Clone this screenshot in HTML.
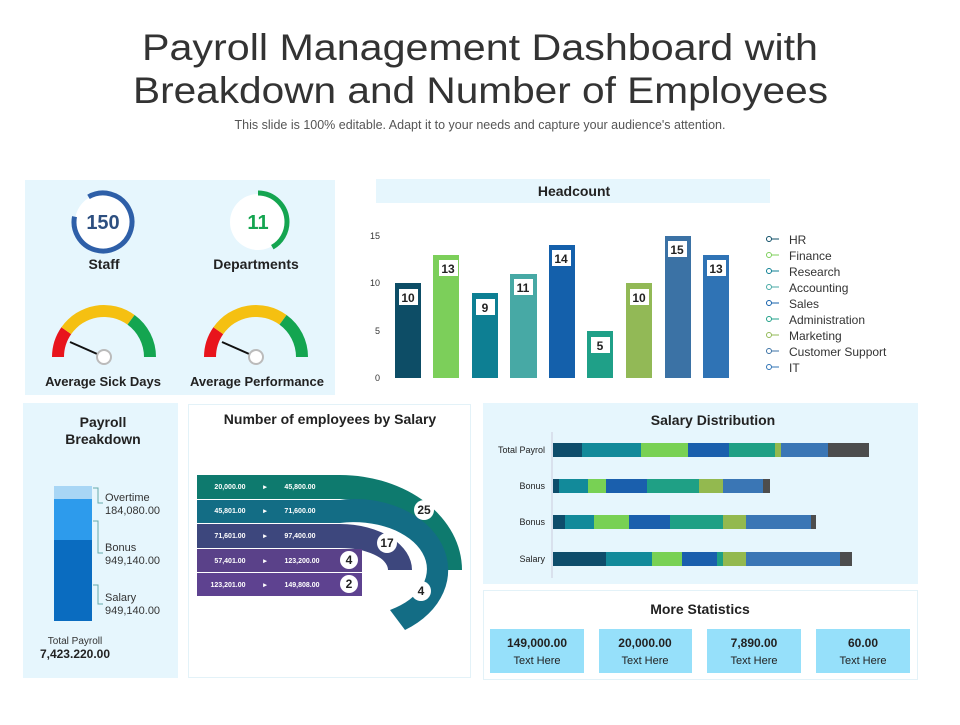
<!DOCTYPE html>
<html><head><meta charset="utf-8"><style>
html,body{margin:0;padding:0;background:#fff;}
svg text{font-family:"Liberation Sans",sans-serif;}
</style></head><body>
<svg width="960" height="720" viewBox="0 0 960 720" xmlns="http://www.w3.org/2000/svg">
<rect width="960" height="720" fill="#fff"/>
<text x="142" y="60" font-size="37" fill="#333" textLength="676" lengthAdjust="spacingAndGlyphs">Payroll Management Dashboard with</text>
<text x="133" y="103" font-size="37" fill="#333" textLength="695" lengthAdjust="spacingAndGlyphs">Breakdown and Number of Employees</text>
<text x="480" y="129" text-anchor="middle" font-size="12.5" fill="#555">This slide is 100% editable. Adapt it to your needs and capture your audience's attention.</text>

<!-- top-left panel -->
<rect x="25" y="180" width="310" height="215" fill="#e6f6fd"/>
<circle cx="103" cy="222" r="28" fill="#fff"/>
<circle cx="103" cy="222" r="29" fill="none" stroke="#2e5fa8" stroke-width="5" stroke-dasharray="157 200" transform="rotate(-120 103 222)"/>
<text x="103" y="229" text-anchor="middle" font-size="20" font-weight="bold" fill="#2d4f80">150</text>
<circle cx="258" cy="222" r="28" fill="#fff"/>
<circle cx="258" cy="222" r="29" fill="none" stroke="#14a550" stroke-width="5" stroke-dasharray="76 200" transform="rotate(-90 258 222)"/>
<text x="258" y="229" text-anchor="middle" font-size="20" font-weight="bold" fill="#14a550">11</text>
<text x="104" y="269" text-anchor="middle" font-size="14" font-weight="bold" fill="#222">Staff</text>
<text x="256" y="269" text-anchor="middle" font-size="14" font-weight="bold" fill="#222">Departments</text>

<g id="g1">
<path d="M52 357 A52 52 0 0 1 61.4 327.2 L71.2 334.1 A40 40 0 0 0 64 357 Z" fill="#e8141c"/>
<path d="M61.4 327.2 A52 52 0 0 1 134.6 315 L127.5 324.6 A40 40 0 0 0 71.2 334.1 Z" fill="#f5c011"/>
<path d="M134.6 315 A52 52 0 0 1 156 357 L144 357 A40 40 0 0 0 127.5 324.6 Z" fill="#14a550"/>
<line x1="70" y1="342" x2="104" y2="357" stroke="#111" stroke-width="2"/>
<circle cx="104" cy="357" r="7" fill="#fff" stroke="#bbb" stroke-width="2"/>
</g>
<use href="#g1" transform="translate(152 0)"/>
<text x="103" y="386" text-anchor="middle" font-size="13" font-weight="bold" fill="#222">Average Sick Days</text>
<text x="257" y="386" text-anchor="middle" font-size="13" font-weight="bold" fill="#222">Average Performance</text>

<!-- Headcount -->
<rect x="376" y="179" width="394" height="24" fill="#e6f6fd"/>
<text x="574" y="196" text-anchor="middle" font-size="14" font-weight="bold" fill="#222">Headcount</text>
<g font-size="9" fill="#333" text-anchor="end">
<text x="380" y="239">15</text><text x="380" y="286">10</text><text x="380" y="334">5</text><text x="380" y="381">0</text>
</g>
<g>
<rect x="395" y="283" width="26" height="95" fill="#0d4d66"/>
<rect x="433" y="255" width="26" height="123" fill="#7ccf5a"/>
<rect x="472" y="293" width="26" height="85" fill="#0d7f93"/>
<rect x="510" y="274" width="27" height="104" fill="#47a9a5"/>
<rect x="549" y="245" width="26" height="133" fill="#1460ab"/>
<rect x="587" y="331" width="26" height="47" fill="#1fa088"/>
<rect x="626" y="283" width="26" height="95" fill="#92b956"/>
<rect x="665" y="236" width="26" height="142" fill="#3b72a5"/>
<rect x="703" y="255" width="26" height="123" fill="#2f73b5"/>
</g>
<g fill="#fff">
<rect x="399" y="289" width="19" height="16"/><rect x="439" y="260" width="19" height="16"/>
<rect x="476" y="299" width="19" height="16"/><rect x="514" y="279" width="19" height="16"/>
<rect x="552" y="250" width="19" height="16"/><rect x="591" y="337" width="19" height="16"/>
<rect x="630" y="289" width="19" height="16"/><rect x="668" y="241" width="19" height="16"/>
<rect x="707" y="260" width="19" height="16"/>
</g>
<g font-size="12" font-weight="bold" fill="#222" text-anchor="middle">
<text x="408" y="302">10</text><text x="448" y="273">13</text><text x="485" y="312">9</text>
<text x="523" y="292">11</text><text x="561" y="263">14</text><text x="600" y="350">5</text>
<text x="639" y="302">10</text><text x="677" y="254">15</text><text x="716" y="273">13</text>
</g>
<g font-size="12" fill="#333">
<text x="789" y="244">HR</text><text x="789" y="260">Finance</text><text x="789" y="276">Research</text>
<text x="789" y="292">Accounting</text><text x="789" y="308">Sales</text><text x="789" y="324">Administration</text>
<text x="789" y="340">Marketing</text><text x="789" y="356">Customer Support</text><text x="789" y="372">IT</text>
</g>
<g fill="none" stroke-width="1">
<g stroke="#0d4d66"><circle cx="769" cy="239" r="2.5"/><line x1="772" y1="239" x2="779" y2="239"/></g>
<g stroke="#7ccf5a"><circle cx="769" cy="255" r="2.5"/><line x1="772" y1="255" x2="779" y2="255"/></g>
<g stroke="#0d7f93"><circle cx="769" cy="271" r="2.5"/><line x1="772" y1="271" x2="779" y2="271"/></g>
<g stroke="#47a9a5"><circle cx="769" cy="287" r="2.5"/><line x1="772" y1="287" x2="779" y2="287"/></g>
<g stroke="#1460ab"><circle cx="769" cy="303" r="2.5"/><line x1="772" y1="303" x2="779" y2="303"/></g>
<g stroke="#1fa088"><circle cx="769" cy="319" r="2.5"/><line x1="772" y1="319" x2="779" y2="319"/></g>
<g stroke="#92b956"><circle cx="769" cy="335" r="2.5"/><line x1="772" y1="335" x2="779" y2="335"/></g>
<g stroke="#3b72a5"><circle cx="769" cy="351" r="2.5"/><line x1="772" y1="351" x2="779" y2="351"/></g>
<g stroke="#2f73b5"><circle cx="769" cy="367" r="2.5"/><line x1="772" y1="367" x2="779" y2="367"/></g>
</g>

<!-- Payroll breakdown -->
<rect x="23" y="403" width="155" height="275" fill="#e6f6fd"/>
<text x="103" y="427" text-anchor="middle" font-size="14" font-weight="bold" fill="#222">Payroll</text>
<text x="103" y="444" text-anchor="middle" font-size="14" font-weight="bold" fill="#222">Breakdown</text>
<rect x="54" y="486" width="38" height="13" fill="#a8d6f5"/>
<rect x="54" y="499" width="38" height="41" fill="#2d9bec"/>
<rect x="54" y="540" width="38" height="81" fill="#0a6cc0"/>
<g fill="none" stroke="#6aa" stroke-width="1">
<path d="M93 488 H98 V503 H103"/><path d="M93 521 H98 V553 H103"/><path d="M93 585 H98 V604 H103"/>
</g>
<g font-size="11" fill="#333">
<text x="105" y="501">Overtime</text><text x="105" y="514">184,080.00</text>
<text x="105" y="551">Bonus</text><text x="105" y="564">949,140.00</text>
<text x="105" y="601">Salary</text><text x="105" y="614">949,140.00</text>
</g>
<text x="75" y="644" text-anchor="middle" font-size="10" fill="#333">Total Payroll</text>
<text x="75" y="658" text-anchor="middle" font-size="12" font-weight="bold" fill="#222">7,423.220.00</text>

<!-- Employees by salary -->
<rect x="188.5" y="404.5" width="282" height="273" fill="#fff" stroke="#e3f2f8"/>
<text x="330" y="424" text-anchor="middle" font-size="14" font-weight="bold" fill="#222">Number of employees by  Salary</text>
<path d="M197 475 H340 A122 95 0 0 1 462 570 H433 A93 71 0 0 0 340 499 H197 Z" fill="#0e7a6e"/>
<path d="M197 500 H340 A93 71 0 0 1 405 630 L390 610 A73 47 0 0 0 340 523 H197 Z" fill="#136d85"/>
<path d="M197 524 H340 A72 46 0 0 1 412 570 H388 A48 22 0 0 0 340 548 H197 Z" fill="#3d477d"/>
<rect x="197" y="549" width="165" height="23" fill="#5a4189"/>
<rect x="197" y="573" width="165" height="23" fill="#5e4290"/>
<g font-size="7" font-weight="bold" fill="#fff" text-anchor="middle">
<text x="230" y="489">20,000.00</text><text x="265" y="489">▸</text><text x="300" y="489">45,800.00</text>
<text x="230" y="513">45,801.00</text><text x="265" y="513">▸</text><text x="300" y="513">71,600.00</text>
<text x="230" y="538">71,601.00</text><text x="265" y="538">▸</text><text x="300" y="538">97,400.00</text>
<text x="230" y="563">57,401.00</text><text x="265" y="563">▸</text><text x="302" y="563">123,200.00</text>
<text x="228" y="587">123,201.00</text><text x="265" y="587">▸</text><text x="302" y="587">149,808.00</text>
</g>
<g fill="#fff"><circle cx="424" cy="510" r="10"/><circle cx="387" cy="543" r="10"/><circle cx="421" cy="591" r="10"/><circle cx="349" cy="560" r="9"/><circle cx="349" cy="584" r="9"/></g>
<g font-size="12" font-weight="bold" fill="#222" text-anchor="middle">
<text x="424" y="514">25</text><text x="387" y="547">17</text><text x="421" y="595">4</text><text x="349" y="564">4</text><text x="349" y="588">2</text>
</g>

<!-- Salary distribution -->
<rect x="483" y="403" width="435" height="181" fill="#e6f6fd"/>
<text x="713" y="425" text-anchor="middle" font-size="14" font-weight="bold" fill="#222">Salary Distribution</text>
<line x1="552" y1="432" x2="552" y2="578" stroke="#ccd" stroke-width="1"/>
<g font-size="9" fill="#222" text-anchor="end">
<text x="545" y="453">Total Payrol</text><text x="545" y="489">Bonus</text><text x="545" y="525">Bonus</text><text x="545" y="562">Salary</text>
</g>
<g>
<rect x="553" y="443" width="29" height="14" fill="#0e4d6b"/><rect x="582" y="443" width="59" height="14" fill="#128a9a"/><rect x="641" y="443" width="47" height="14" fill="#78d154"/><rect x="688" y="443" width="41" height="14" fill="#1a5fad"/><rect x="729" y="443" width="46" height="14" fill="#1fa085"/><rect x="775" y="443" width="6" height="14" fill="#93b94f"/><rect x="781" y="443" width="47" height="14" fill="#3a76b5"/><rect x="828" y="443" width="41" height="14" fill="#4d4d4d"/>
<rect x="553" y="479" width="6" height="14" fill="#0e4d6b"/><rect x="559" y="479" width="29" height="14" fill="#128a9a"/><rect x="588" y="479" width="18" height="14" fill="#78d154"/><rect x="606" y="479" width="41" height="14" fill="#1a5fad"/><rect x="647" y="479" width="52" height="14" fill="#1fa085"/><rect x="699" y="479" width="24" height="14" fill="#93b94f"/><rect x="723" y="479" width="40" height="14" fill="#3a76b5"/><rect x="763" y="479" width="7" height="14" fill="#4d4d4d"/>
<rect x="553" y="515" width="12" height="14" fill="#0e4d6b"/><rect x="565" y="515" width="29" height="14" fill="#128a9a"/><rect x="594" y="515" width="35" height="14" fill="#78d154"/><rect x="629" y="515" width="41" height="14" fill="#1a5fad"/><rect x="670" y="515" width="53" height="14" fill="#1fa085"/><rect x="723" y="515" width="23" height="14" fill="#93b94f"/><rect x="746" y="515" width="65" height="14" fill="#3a76b5"/><rect x="811" y="515" width="5" height="14" fill="#4d4d4d"/>
<rect x="553" y="552" width="53" height="14" fill="#0e4d6b"/><rect x="606" y="552" width="46" height="14" fill="#128a9a"/><rect x="652" y="552" width="30" height="14" fill="#78d154"/><rect x="682" y="552" width="35" height="14" fill="#1a5fad"/><rect x="717" y="552" width="6" height="14" fill="#1fa085"/><rect x="723" y="552" width="23" height="14" fill="#93b94f"/><rect x="746" y="552" width="94" height="14" fill="#3a76b5"/><rect x="840" y="552" width="12" height="14" fill="#4d4d4d"/>
</g>

<!-- More statistics -->
<rect x="483.5" y="590.5" width="434" height="89" fill="#fff" stroke="#e3f2f8"/>
<text x="700" y="614" text-anchor="middle" font-size="14" font-weight="bold" fill="#222">More Statistics</text>
<g fill="#96e0fa">
<rect x="490" y="629" width="94" height="44"/><rect x="599" y="629" width="93" height="44"/>
<rect x="707" y="629" width="94" height="44"/><rect x="816" y="629" width="94" height="44"/>
</g>
<g text-anchor="middle" fill="#222">
<text x="537" y="647" font-size="12" font-weight="bold">149,000.00</text><text x="537" y="664" font-size="11">Text Here</text>
<text x="645" y="647" font-size="12" font-weight="bold">20,000.00</text><text x="645" y="664" font-size="11">Text Here</text>
<text x="754" y="647" font-size="12" font-weight="bold">7,890.00</text><text x="754" y="664" font-size="11">Text Here</text>
<text x="863" y="647" font-size="12" font-weight="bold">60.00</text><text x="863" y="664" font-size="11">Text Here</text>
</g>
</svg>
</body></html>
